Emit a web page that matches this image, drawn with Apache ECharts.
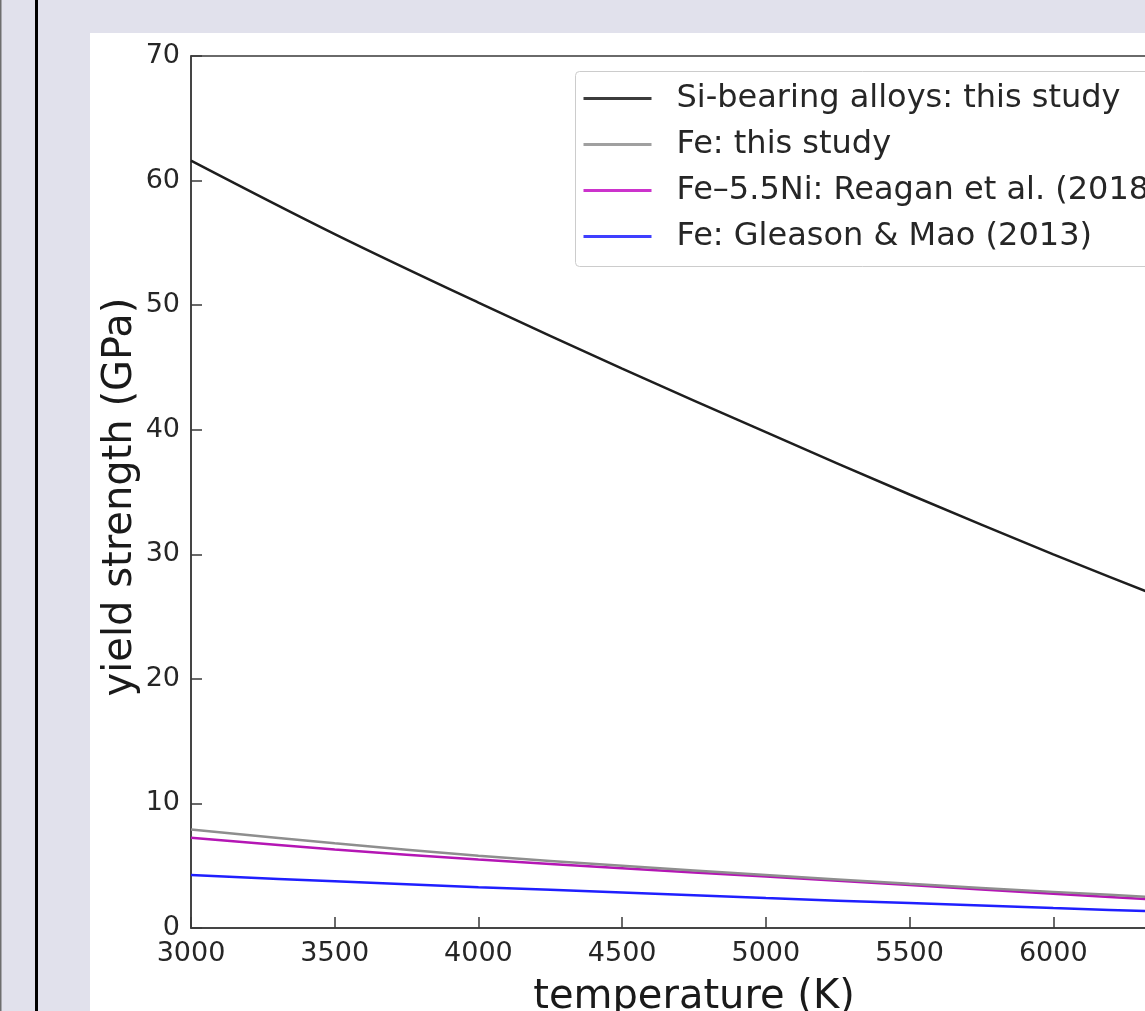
<!DOCTYPE html>
<html>
<head>
<meta charset="utf-8">
<title>Yield strength vs temperature</title>
<script src="https://cdn.jsdelivr.net/npm/echarts@6/dist/echarts.min.js"></script>
<style>
  html, body { margin: 0; padding: 0; background: #e1e1ec; }
  #chart { width: 1145px; height: 1011px; }
</style>
</head>
<body>
<div id="chart"></div>
<script>
// Temperatures (K) at which each strength curve is sampled
const temperature = [3000, 3500, 4000, 4500, 5000, 5500, 6000, 6500];

// Yield strength (GPa) for each material
const siBearing  = [61.6, 55.7, 50.2, 44.9, 39.8, 34.8, 30.0, 25.4];
const feThis     = [7.9, 6.8, 5.8, 5.0, 4.25, 3.55, 2.9, 2.3];
const feNi       = [7.25, 6.3, 5.5, 4.8, 4.13, 3.45, 2.75, 2.1];
const feGleason  = [4.25, 3.75, 3.28, 2.85, 2.4, 2.0, 1.6, 1.22];

const seriesNames = [
  'Si-bearing alloys: this study',
  'Fe: this study',
  'Fe\u20135.5Ni: Reagan et al. (2018)',
  'Fe: Gleason & Mao (2013)'
];
const lineColors   = ['#1e1e1e', '#8e8e8e', '#b416b4', '#1f1fff'];
const legendColors = ['#3c3c3c', '#a0a0a0', '#cc33cc', '#3f3fff'];

const xTicks = { min: 3000, max: 6500, step: 500 };
const yTicks = { min: 0, max: 70, step: 10 };

const FONT = 'DejaVu Sans';
const pairs = ys => temperature.map((t, i) => [t, ys[i]]);
const curves = [siBearing, feThis, feNi, feGleason];

const chart = echarts.init(document.getElementById('chart'), null, { renderer: 'canvas' });

chart.setOption({
  animation: false,
  backgroundColor: '#e1e1ec',
  graphic: [
    { type: 'rect', silent: true, z: -10, shape: { x: 90, y: 33, width: 1100, height: 1000 }, style: { fill: '#ffffff' } },
    { type: 'rect', silent: true, z: -10, shape: { x: 35, y: 0, width: 3, height: 1011 }, style: { fill: '#000000' } },
    { type: 'rect', silent: true, z: -10, shape: { x: 0, y: 0, width: 1.5, height: 1011 }, style: { fill: '#6e6e6e' } }
  ],
  grid: {
    left: 191, top: 56, width: 1006, height: 872,
    outerBoundsMode: 'none', containLabel: false,
    show: true, borderColor: '#3a3a3a', borderWidth: 1.5, backgroundColor: 'transparent'
  },
  legend: {
    orient: 'vertical',
    left: 575.5, top: 71.5,
    padding: [9, 30, 12, 8],
    itemGap: 10,
    itemWidth: 68, itemHeight: 3,
    icon: 'rect',
    backgroundColor: '#ffffff',
    borderColor: '#cccccc', borderWidth: 1, borderRadius: 4,
    textStyle: { fontFamily: FONT, fontSize: 32, lineHeight: 36, color: '#262626', padding: [0, 0, 0, 20] },
    data: seriesNames.map((n, i) => ({ name: n, itemStyle: { color: legendColors[i] } }))
  },
  xAxis: {
    type: 'value',
    min: xTicks.min, max: xTicks.max, interval: xTicks.step,
    name: 'temperature (K)', nameLocation: 'middle', nameGap: 50, nameMoveOverlap: false,
    nameTextStyle: { fontFamily: FONT, fontSize: 40, color: '#1a1a1a' },
    axisLine: { show: true, onZero: false, lineStyle: { color: '#3a3a3a', width: 1.5 } },
    axisTick: { show: true, inside: true, length: 11, lineStyle: { color: '#3a3a3a', width: 1.5 } },
    axisLabel: { fontFamily: FONT, fontSize: 27, color: '#262626', margin: 12, formatter: v => String(v) },
    splitLine: { show: false }
  },
  yAxis: {
    type: 'value',
    min: yTicks.min, max: yTicks.max, interval: yTicks.step,
    name: 'yield strength (GPa)', nameLocation: 'middle', nameGap: 50, nameRotate: 90, nameMoveOverlap: false,
    nameTextStyle: { fontFamily: FONT, fontSize: 40, color: '#1a1a1a', padding: [0, 10, 0, 0] },
    axisLine: { show: true, lineStyle: { color: '#3a3a3a', width: 1.5 } },
    axisTick: { show: true, inside: true, length: 11, lineStyle: { color: '#3a3a3a', width: 1.5 } },
    axisLabel: { fontFamily: FONT, fontSize: 27, color: '#262626', margin: 11, padding: [5, 0, 0, 0], formatter: v => String(v) },
    splitLine: { show: false }
  },
  series: curves.map((ys, i) => ({
    name: seriesNames[i],
    type: 'line',
    data: pairs(ys),
    smooth: 0.35,
    showSymbol: false,
    symbol: 'none',
    lineStyle: { color: lineColors[i], width: 2.5 },
    itemStyle: { color: lineColors[i] },
    z: 10 - i
  }))
});
</script>
</body>
</html>
